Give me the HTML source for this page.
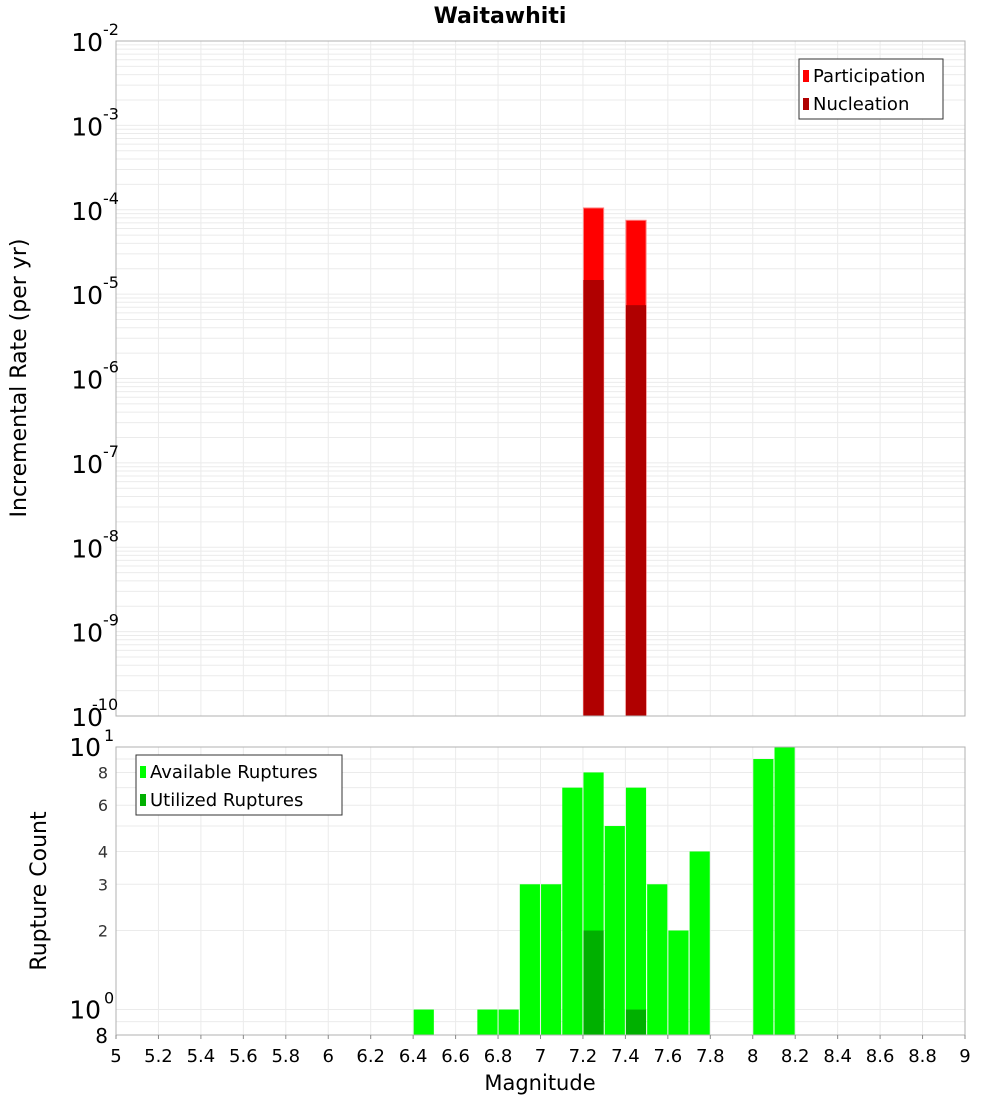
<!DOCTYPE html>
<html><head><meta charset="utf-8"><style>
body{margin:0;background:#fff;font-family:"Liberation Sans","DejaVu Sans",sans-serif}
svg text{font-family:"DejaVu Sans","Liberation Sans",sans-serif}
</style></head><body>
<svg id="c" width="1000" height="1100" xmlns="http://www.w3.org/2000/svg"></svg>
<script>
const magBins=[7.25,7.45];
const participation=[1.05e-4,7.5e-5];
const nucleation=[1.47e-5,7.4e-6];
const countBins=[6.45,6.75,6.85,6.95,7.05,7.15,7.25,7.35,7.45,7.55,7.65,7.75,8.05,8.15];
const available=[1,1,1,3,3,7,8,5,7,3,2,4,9,10];
const utilBins=[7.25,7.45];
const utilized=[2,1];
const xTicks=[5,5.2,5.4,5.6,5.8,6,6.2,6.4,6.6,6.8,7,7.2,7.4,7.6,7.8,8,8.2,8.4,8.6,8.8,9];
const topExps=[-2,-3,-4,-5,-6,-7,-8,-9,-10];
const botTicks=[2,3,4,6,8];

const svg=document.getElementById('c');const NS='http://www.w3.org/2000/svg';
function el(t,a,p){const e=document.createElementNS(NS,t);for(const k in a)e.setAttribute(k,a[k]);(p||svg).appendChild(e);return e;}
const L=116,R=965,T1=41,B1=716,T2=747,B2=1035;
const X=m=>L+(m-5)/4*(R-L);
const Y1=v=>T1+(-2-Math.log10(v))/8*(B1-T1);
const lmin=Math.log10(0.8),lmax=1;
const Y2=v=>T2+(lmax-Math.log10(v))/(lmax-lmin)*(B2-T2);
const g=el('g',{});

// grids
for(const t of xTicks){const x=X(t);
 el('line',{x1:x,x2:x,y1:T1,y2:B1,stroke:'#ebebeb'},g);
 el('line',{x1:x,x2:x,y1:T2,y2:B2,stroke:'#ebebeb'},g);}
for(let e=-10;e<-2;e++)for(let k=1;k<10;k++){const y=Y1(k*Math.pow(10,e));el('line',{x1:L,x2:R,y1:y,y2:y,stroke:'#ebebeb'},g);}
for(const v of [0.8,0.9,1,2,3,4,5,6,7,8,9,10]){const y=Y2(v);el('line',{x1:L,x2:R,y1:y,y2:y,stroke:'#ebebeb'},g);}
const bw=X(5.095)-X(5);
// top bars
magBins.forEach((m,i)=>{
 const b=el('rect',{x:X(m)-bw/2,y:Y1(participation[i]),width:bw,height:B1-Y1(participation[i]),fill:'#ff0000',stroke:'#ff8080','stroke-width':1});
 
 const n=el('rect',{x:X(m)-bw/2,y:Y1(nucleation[i]),width:bw,height:B1-Y1(nucleation[i]),fill:'#b00000'});
 
});
countBins.forEach((m,i)=>{
 const b=el('rect',{x:X(m)-bw/2,y:Y2(available[i]),width:bw,height:B2-Y2(available[i]),fill:'#00ff00'});
 
});
utilBins.forEach((m,i)=>{
 const b=el('rect',{x:X(m)-bw/2,y:Y2(utilized[i]),width:bw,height:B2-Y2(utilized[i]),fill:'#00b000'});
 
});
el('rect',{x:L,y:T1,width:R-L,height:B1-T1,fill:'none',stroke:'#b0b0b0'});
el('rect',{x:L,y:T2,width:R-L,height:B2-T2,fill:'none',stroke:'#b0b0b0'});
// x ticks
for(const t of xTicks){const x=X(t);el('line',{x1:x,x2:x,y1:B2,y2:B2+4,stroke:'#888'});
 const tx=el('text',{x:x,y:1062,'font-size':18,'text-anchor':'middle',fill:'#000'});tx.textContent=String(t);
 }
// top y labels
for(const e of topExps){const y=Y1(Math.pow(10,e));
 const tx=el('text',{x:103,y:y+10,'font-size':25,'text-anchor':'end',fill:'#000'});tx.textContent='10';
 
 const s=el('text',{x:103,y:y-6,'font-size':16,fill:'#000'});s.textContent=String(e);
 if(e==-10){s.setAttribute('x',92);}
}
// bottom y
[[1,'10','0'],[10,'10','1']].forEach(([v,b,s])=>{const y=Y2(v);
 const tx=el('text',{x:101,y:y+9,'font-size':25,'text-anchor':'end',fill:'#000'});tx.textContent=b;
 
 const sx=el('text',{x:104,y:y-6,'font-size':16,fill:'#000'});sx.textContent=s;});
for(const v of botTicks){const tx=el('text',{x:108,y:Y2(v)+6,'font-size':16,'text-anchor':'end',fill:'#333'});tx.textContent=String(v);
 }
{const tx=el('text',{x:108,y:1043,'font-size':20,'text-anchor':'end',fill:'#000'});tx.textContent='8';}
// titles
let t=el('text',{x:500,y:23,'font-size':22,'font-weight':'bold','text-anchor':'middle'});t.textContent='Waitawhiti';

t=el('text',{x:540,y:1090,'font-size':21,'text-anchor':'middle'});t.textContent='Magnitude';

t=el('text',{x:0,y:0,'font-size':22,'text-anchor':'middle',transform:'translate(26,378) rotate(-90)'});t.textContent='Incremental Rate (per yr)';

t=el('text',{x:0,y:0,'font-size':22,'text-anchor':'middle',transform:'translate(46,891) rotate(-90)'});t.textContent='Rupture Count';

// legends
function legend(x,y,w,items,name){const lg=el('g',{});
 el('rect',{x:x,y:y,width:w,height:items.length*28+4,fill:'#fff',stroke:'#333'},lg);
 items.forEach(([c,l],i)=>{el('rect',{x:x+4,y:y+11+i*28,width:6,height:12,fill:c},lg);
  const tt=el('text',{x:x+14,y:y+23+i*28,'font-size':18},lg);tt.textContent=l;});}
legend(799,59,144,[['#ff0000','Participation'],['#b00000','Nucleation']],'rate-legend');
legend(136,755,206,[['#00ff00','Available Ruptures'],['#00b000','Utilized Ruptures']],'count-legend');
</script>
</body></html>
